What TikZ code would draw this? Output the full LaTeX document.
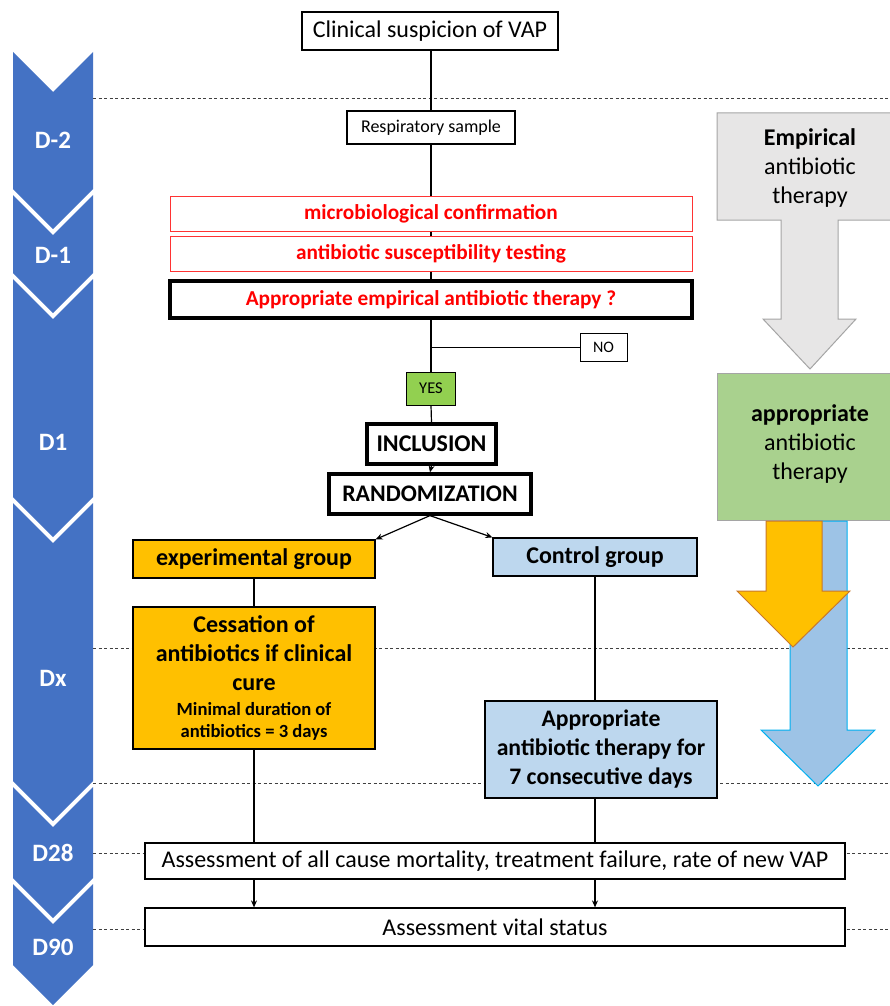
\documentclass[tikz,border=0pt]{standalone}
\usepackage{fontspec}
\setmainfont{Carlito}
\usetikzlibrary{arrows.meta}
\definecolor{chev}{HTML}{4472C4}
\definecolor{orng}{HTML}{FFC000}
\definecolor{orngb}{HTML}{C9782A}
\definecolor{lblue}{HTML}{BDD7EE}
\definecolor{ablue}{HTML}{9DC3E6}
\definecolor{ablueb}{HTML}{00B0F0}
\definecolor{ygreen}{HTML}{92D050}
\definecolor{sgreen}{HTML}{A9D18E}
\definecolor{lgray}{HTML}{E7E6E6}
\definecolor{mgray}{HTML}{A5A5A5}
\definecolor{dashc}{HTML}{404040}
\begin{document}
\begin{tikzpicture}[x=1pt,y=-1pt,
  box/.style={draw=black, line width=1.2pt, fill=white, inner sep=0pt, align=center},
  thickbox/.style={box, line width=3.2pt},
  redbox/.style={box, draw=red!80, line width=1pt, text=red, font=\fontsize{21.3}{25}\selectfont\bfseries},
  daylbl/.style={text=white, font=\fontsize{25}{29}\selectfont\bfseries, inner sep=0pt},
  conn/.style={draw=black, line width=1.2pt},
  arr/.style={conn, -{Stealth[length=7pt,width=6pt]}},
  divider/.style={draw=dashc, line width=0.8pt, dash pattern=on 3pt off 2.5pt},
  sidetext/.style={align=center, inner sep=0pt, font=\fontsize{24}{29}\selectfont}
]
\useasboundingbox (0,0) rectangle (890,1006);

% ---- left chevron column ----
\fill[chev] (13,52) -- (53,92) -- (93,52) -- (93,189) -- (53,229) -- (13,189) -- cycle;
\fill[chev] (13,195) -- (53,235) -- (93,195) -- (93,273) -- (53,313) -- (13,273) -- cycle;
\fill[chev] (13,279) -- (53,319) -- (93,279) -- (93,497) -- (53,537) -- (13,497) -- cycle;
\fill[chev] (13,503) -- (53,543) -- (93,503) -- (93,781) -- (53,821) -- (13,781) -- cycle;
\fill[chev] (13,787) -- (53,827) -- (93,787) -- (93,878) -- (53,918) -- (13,878) -- cycle;
\fill[chev] (13,884) -- (53,924) -- (93,884) -- (93,965) -- (53,1005) -- (13,965) -- cycle;
\node[daylbl] (dm2) at (53,140) {D-2};
\node[daylbl] (dm1) at (53,255) {D-1};
\node[daylbl] (d1) at (53,442) {D1};
\node[daylbl] (dx) at (53,678) {Dx};
\node[daylbl] (d28l) at (53,853) {D28};
\node[daylbl] (d90l) at (53,947) {D90};

% ---- dashed dividers ----
\coordinate (l1a) at (93,98);  \coordinate (l1b) at (890,98);
\coordinate (l2a) at (93,648); \coordinate (l2b) at (890,648);
\coordinate (l3a) at (93,783); \coordinate (l3b) at (890,783);
\coordinate (l4a) at (93,853); \coordinate (l4b) at (890,853);
\coordinate (l5a) at (93,929); \coordinate (l5b) at (890,929);
\draw[divider] (l1a) -- (l1b);
\draw[divider] (l2a) -- (l2b);
\draw[divider] (l3a) -- (l3b);
\draw[divider] (l4a) -- (l4b);
\draw[divider] (l5a) -- (l5b);

% ---- right side block arrows ----
\draw[fill=lgray, draw=mgray, line width=1pt] (717,113) -- (896,113) -- (896,220) -- (838,220) -- (838,319) -- (856,319) -- (810,369) -- (763,319) -- (781,319) -- (781,220) -- (717,220) -- cycle;
\node[sidetext] (emp) at (810,168) {\textbf{Empirical}\\antibiotic\\therapy};
\node[draw=mgray, fill=sgreen, line width=1pt, minimum width=186pt, minimum height=147pt, inner sep=0pt] (apbox) at (810,446.5) {};
\node[sidetext] (aptxt) at (810,444) {\textbf{appropriate}\\antibiotic\\therapy};
\draw[fill=ablue, draw=ablueb, line width=1pt] (790,521) -- (847,521) -- (847,730) -- (875,730) -- (818,786) -- (761,730) -- (790,730) -- cycle;
\draw[fill=orng, draw=orngb, line width=1pt] (766,521) -- (822,521) -- (822,591) -- (850,591) -- (793,647) -- (737,591) -- (766,591) -- cycle;

% ---- flowchart nodes ----
\node[box, minimum width=256pt, minimum height=38pt, font=\fontsize{24}{28}\selectfont] (clin) at (430,31) {Clinical suspicion of VAP};
\node[box, minimum width=168pt, minimum height=33pt, font=\fontsize{18}{21}\selectfont] (resp) at (431,127.5) {Respiratory sample};
\node[redbox, minimum width=522pt, minimum height=35pt] (micro) at (431,213.5) {microbiological confirmation};
\node[redbox, minimum width=522pt, minimum height=35pt] (susc) at (431,253.5) {antibiotic susceptibility testing};
\node[thickbox, minimum width=522pt, minimum height=37pt, text=red, font=\fontsize{21.3}{25}\selectfont\bfseries] (appr) at (431,299.5) {Appropriate empirical antibiotic therapy ?};
\node[box, line width=1pt, minimum width=47pt, minimum height=28pt, font=\fontsize{16}{19}\selectfont] (no) at (603.5,347) {NO};
\node[box, line width=1pt, fill=ygreen, minimum width=49pt, minimum height=33pt, font=\fontsize{16.5}{19}\selectfont] (yes) at (431,388.5) {YES};
\node[thickbox, minimum width=129pt, minimum height=40pt, font=\fontsize{24}{28}\selectfont\bfseries] (incl) at (431.5,444) {INCLUSION};
\node[thickbox, minimum width=202pt, minimum height=40pt, font=\fontsize{23.8}{28}\selectfont\bfseries] (rand) at (430,494) {RANDOMIZATION};
\node[box, fill=orng, minimum width=242pt, minimum height=38pt, font=\fontsize{24}{28}\selectfont\bfseries] (exp) at (254,559) {experimental group};
\node[box, fill=lblue, minimum width=204pt, minimum height=38pt, font=\fontsize{24}{28}\selectfont\bfseries] (ctrl) at (595,557) {Control group};
\node[box, fill=orng, minimum width=242pt, minimum height=142pt, font=\fontsize{24}{29}\selectfont\bfseries] (cess) at (254,678) {Cessation of\\antibiotics if clinical\\cure\\[-4pt]\fontsize{18.6}{22}\selectfont Minimal duration of\\[-7pt]\fontsize{18.6}{22}\selectfont antibiotics = 3 days};
\node[box, fill=lblue, minimum width=232pt, minimum height=97pt, font=\fontsize{23.7}{29}\selectfont\bfseries] (ther) at (601,749.5) {Appropriate\\antibiotic therapy for\\7 consecutive days};
\node[box, minimum width=700pt, minimum height=36pt, font=\fontsize{24}{28}\selectfont] (d28) at (495,861) {Assessment of all cause mortality, treatment failure, rate of new VAP};
\node[box, minimum width=700pt, minimum height=38pt, font=\fontsize{24}{28}\selectfont] (vital) at (495,927) {Assessment vital status};

% ---- connectors ----
\coordinate (br) at (431,347);
\draw[conn] (clin.south -| resp.north) -- (resp.north);
\draw[conn] (resp.south) -- (micro.north);
\draw[conn] (micro.south) -- (susc.north);
\draw[conn] (susc.south) -- (appr.north);
\draw[conn] (appr.south) -- (yes.north);
\draw[conn, line width=0.8pt] (br) -- (no.west);
\draw[conn] (yes.south) -- (incl.north);
\draw[arr] (incl.south) -- (rand.north);
\draw[arr] (rand.south) -- (exp.north east);
\draw[arr] (rand.south) -- (ctrl.north west);
\draw[conn] (exp.south) -- (cess.north);
\draw[conn] (cess.south) -- (cess.south |- d28.north);
\draw[conn] (ctrl.south) -- (ctrl.south |- ther.north);
\draw[conn] (ctrl.south |- ther.south) -- (ctrl.south |- d28.north);
\draw[arr] (cess.south |- d28.south) -- (cess.south |- vital.north);
\draw[arr] (ctrl.south |- d28.south) -- (ctrl.south |- vital.north);
\end{tikzpicture}
\end{document}
